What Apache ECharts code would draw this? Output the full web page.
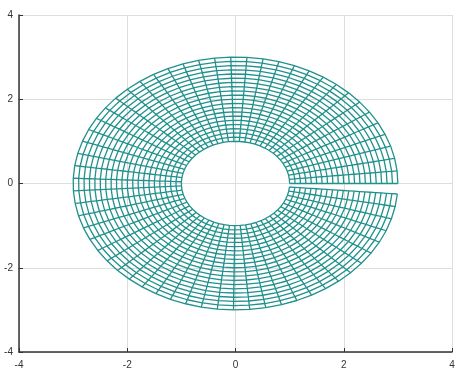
<!DOCTYPE html>
<html>
<head>
<meta charset="utf-8">
<script src="https://cdn.jsdelivr.net/npm/echarts@6/dist/echarts.min.js"></script>
<style>html,body{margin:0;padding:0;background:#fff}#c{width:464px;height:380px}</style>
</head>
<body>
<div id="c"></div>
<script>
// Mesh parameters
var radii = [1.0,1.1,1.2,1.3,1.4,1.5,1.6,1.7,1.8,1.9,2.0,2.1,2.2,2.3,2.4,2.5,2.6,2.7,2.8,2.9,3.0];
var angles = [0.0,0.1,0.2,0.3,0.4,0.5,0.6,0.7,0.8,0.9,1.0,1.1,1.2,1.3,1.4,1.5,1.6,1.7,1.8,1.9,2.0,2.1,2.2,2.3,2.4,2.5,2.6,2.7,2.8,2.9,3.0,3.1,3.2,3.3,3.4,3.5,3.6,3.7,3.8,3.9,4.0,4.1,4.2,4.3,4.4,4.5,4.6,4.7,4.8,4.9,5.0,5.1,5.2,5.3,5.4,5.5,5.6,5.7,5.8,5.9,6.0,6.1,6.2];
var xTicks = [-4,-2,0,2,4];
var yTicks = [-4,-2,0,2,4];

var color = '#21918c';
var series = [];
function mk(data){
  return {type:'line', data:data, showSymbol:false, symbol:'none', silent:true,
    lineStyle:{color:color, width:1.3}, animation:false, z:3};
}
radii.forEach(function(r){
  series.push(mk(angles.map(function(t){return [r*Math.cos(t), r*Math.sin(t)];})));
});
angles.forEach(function(t){
  series.push(mk(radii.map(function(r){return [r*Math.cos(t), r*Math.sin(t)];})));
});

var axisCommon = {
  type:'value', min:xTicks[0], max:xTicks[xTicks.length-1], interval:2,
  axisLine:{show:true, onZero:false, lineStyle:{color:'#333', width:1.5}},
  axisTick:{show:true, inside:true, length:4, lineStyle:{color:'#333'}},
  splitLine:{show:true, lineStyle:{color:'#dedede', width:1}},
  axisLabel:{color:'#333', fontSize:10, fontFamily:'Liberation Sans'}
};
var chart = echarts.init(document.getElementById('c'), null, {renderer:'canvas'});
chart.setOption({
  animation:false,
  backgroundColor:'#fff',
  grid:{left:19, right:12, top:15, bottom:28, containLabel:false},
  xAxis: Object.assign({}, axisCommon, {axisLabel:Object.assign({}, axisCommon.axisLabel, {margin:8})}),
  yAxis: Object.assign({}, axisCommon, {min:yTicks[0], max:yTicks[yTicks.length-1], axisLabel:Object.assign({}, axisCommon.axisLabel, {margin:6})}),
  series: series
});
</script>
</body>
</html>
